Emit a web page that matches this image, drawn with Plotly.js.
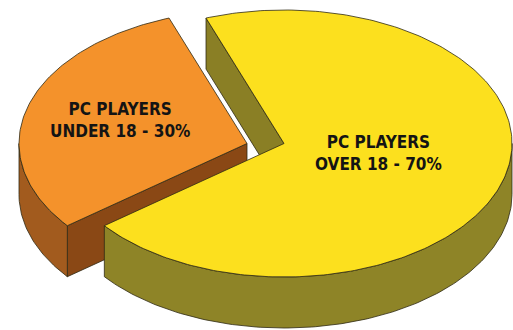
<!DOCTYPE html>
<html>
<head>
<meta charset="utf-8">
<script src="https://cdn.plot.ly/plotly-3.0.1.min.js"></script>
<style>html,body{margin:0;padding:0;background:#fff;}#chart{width:513px;height:330px;}</style>
</head>
<body>
<div id="chart"></div>
<script>
// ---- data ----
const categories = ['PC PLAYERS UNDER 18', 'PC PLAYERS OVER 18'];
const shares = [30, 70];
const labelTexts = ['PC PLAYERS<br>UNDER 18 - 30%', 'PC PLAYERS<br>OVER 18 - 70%'];

// ---- styling / geometry (not data) ----
const topColors = ['#F4922B', '#FCE01E'];
const wallColors = ['#A25B1E', '#8E8427'];
const faceColors = ['#8A4815', '#8A7F25'];
const outline = '#2e2a14';
const startAngle = 110;          // degrees, counter-clockwise
const rx = 228, ry = 133.5, depth = 51;
const centers = [[247, 143.5], [284, 143.5]];
const labelPos = [[120, 120], [378, 153]];

const rad = d => d * Math.PI / 180;
function pt(c, t, dz) { return [c[0] + rx * Math.cos(rad(t)), c[1] - ry * Math.sin(rad(t)) + dz]; }
function arc(c, a, b, dz) {
  const pts = [];
  const n = Math.max(2, Math.ceil(Math.abs(b - a)));
  for (let i = 0; i <= n; i++) pts.push(pt(c, a + (b - a) * i / n, dz));
  return pts;
}
function poly(pts, color) {
  const xs = pts.map(p => p[0]), ys = pts.map(p => p[1]);
  xs.push(xs[0]); ys.push(ys[0]);
  return {type: 'scatter', mode: 'lines', x: xs, y: ys, fill: 'toself', fillcolor: color,
          line: {color: outline, width: 0.8}, hoverinfo: 'skip', showlegend: false};
}

const total = shares.reduce((a, b) => a + b, 0);
const slices = [];
let acc = startAngle;
shares.forEach((v, i) => { const a0 = acc, a1 = acc + v / total * 360; slices.push({i, a0, a1}); acc = a1; });

const faces = [], walls = [], tops = [];
slices.forEach(s => {
  const c = centers[s.i];
  [[s.a0, s.a0 - 90], [s.a1, s.a1 + 90]].forEach(([a, nrm]) => {
    if (Math.sin(rad(nrm)) < 0) {
      const p = pt(c, a, 0);
      faces.push(poly([[c[0], c[1]], p, [p[0], p[1] + depth], [c[0], c[1] + depth]], faceColors[s.i]));
    }
  });
  for (let m = -1; m <= 2; m++) {
    const lo = Math.max(s.a0, 180 + 360 * m), hi = Math.min(s.a1, 360 + 360 * m);
    if (hi > lo) {
      const top = arc(c, lo, hi, 0), bot = arc(c, hi, lo, depth);
      walls.push(poly(top.concat(bot), wallColors[s.i]));
    }
  }
  tops.push(poly([[c[0], c[1]]].concat(arc(c, s.a0, s.a1, 0)), topColors[s.i]));
});

const annotations = labelTexts.map((t, i) => ({
  x: labelPos[i][0], y: labelPos[i][1], xref: 'x', yref: 'y', text: t, showarrow: false,
  font: {family: 'DejaVu Sans Condensed, sans-serif', size: 17, color: '#141414', weight: 700},
  align: 'center'
}));

Plotly.newPlot('chart', faces.concat(walls, tops), {
  width: 513, height: 330, margin: {l: 0, r: 0, t: 0, b: 0},
  paper_bgcolor: '#ffffff', plot_bgcolor: '#ffffff', showlegend: false,
  xaxis: {range: [0, 513], visible: false, fixedrange: true},
  yaxis: {range: [330, 0], visible: false, fixedrange: true},
  annotations
}, {staticPlot: true, displayModeBar: false});
</script>
</body>
</html>
